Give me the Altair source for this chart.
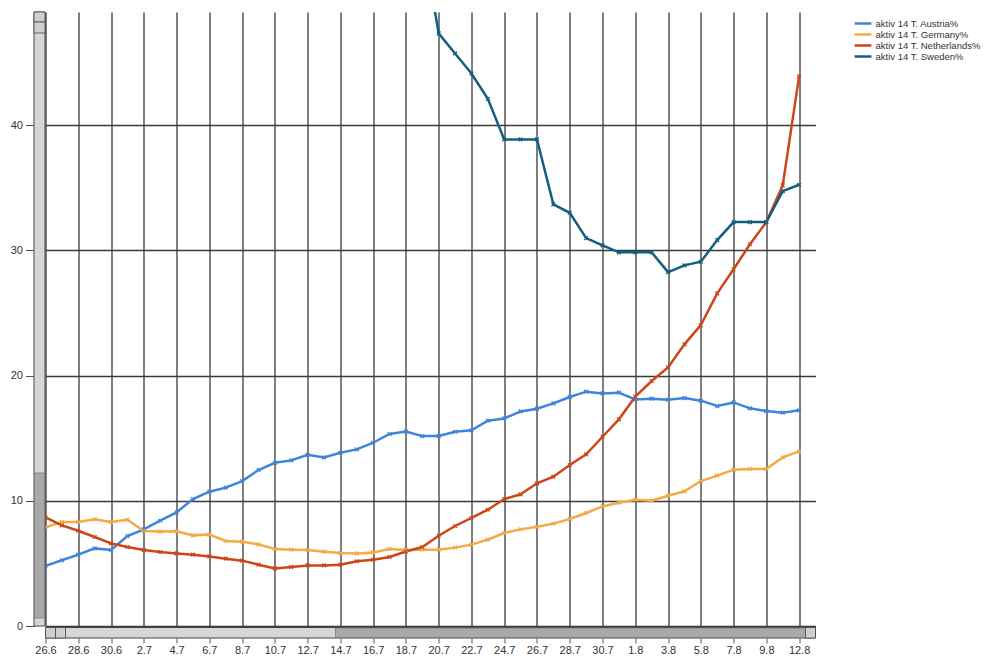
import altair as alt
import pandas as pd

# ---- data ----
dates = (["26.6", "27.6", "28.6", "29.6", "30.6"]
         + [f"{d}.7" for d in range(1, 32)]
         + [f"{d}.8" for d in range(1, 11)] + ["12.8"])

austria = [4.8, 5.25, 5.7, 6.2, 6.07, 7.19, 7.72, 8.41, 9.08, 10.14,
           10.73, 11.05, 11.58, 12.46, 13.04, 13.23, 13.68, 13.47, 13.84, 14.11,
           14.64, 15.34, 15.54, 15.17, 15.18, 15.52, 15.63, 16.4, 16.58, 17.14,
           17.36, 17.78, 18.29, 18.72, 18.58, 18.64, 18.1, 18.16, 18.08, 18.21,
           18.0, 17.57, 17.86, 17.39, 17.17, 17.04, 17.23]
germany = [7.88, 8.31, 8.31, 8.52, 8.31, 8.49, 7.59, 7.54, 7.56, 7.24,
           7.3, 6.79, 6.74, 6.52, 6.15, 6.1, 6.07, 5.94, 5.83, 5.8,
           5.88, 6.15, 6.08, 6.1, 6.1, 6.26, 6.5, 6.9, 7.43, 7.72,
           7.93, 8.18, 8.55, 9.03, 9.56, 9.85, 10.09, 10.01, 10.41, 10.76,
           11.58, 12.01, 12.49, 12.54, 12.54, 13.47, 13.95]
netherlands = [8.68, 8.04, 7.61, 7.11, 6.6, 6.31, 6.07, 5.91, 5.8, 5.7,
               5.56, 5.38, 5.22, 4.9, 4.6, 4.71, 4.84, 4.84, 4.9, 5.17,
               5.3, 5.51, 5.95, 6.31, 7.21, 7.99, 8.63, 9.29, 10.14, 10.52,
               11.4, 11.93, 12.86, 13.71, 15.12, 16.51, 18.32, 19.57, 20.66, 22.5,
               24.04, 26.57, 28.5, 30.5, 32.27, 35.2, 43.93]
sweden = [None] * 23 + [55.0, 47.34, 45.74, 44.14, 42.12, 38.87, 38.87, 38.87,
                        33.68, 33.01, 30.99, 30.41, 29.85, 29.85, 29.85, 28.27,
                        28.81, 29.1, 30.83, 32.27, 32.27, 32.27, 34.74, 35.25]

series_names = ["aktiv 14 T. Austria%", "aktiv 14 T. Germany%",
                "aktiv 14 T. Netherlands%", "aktiv 14 T. Sweden%"]
series_values = [austria, germany, netherlands, sweden]
series_colors = ["#3f84d8", "#f4aa45", "#cc4618", "#135f80"]

rows = []
for name, vals in zip(series_names, series_values):
    for i, v in enumerate(vals):
        if v is not None:
            rows.append({"i": i, "date": dates[i], "series": name, "value": v})
df = pd.DataFrame(rows)

W, H = 770, 614
tick_idx = list(range(0, len(dates), 2))
label_expr = "[" + ",".join(f"'{d}'" for d in dates) + "][datum.value]"

x = alt.X("i:Q", scale=alt.Scale(domain=[0, 47], nice=False, zero=False),
          axis=alt.Axis(values=tick_idx, tickCount=100, labelExpr=label_expr,
                        title=None, grid=True, gridColor="#3a3a3a", gridWidth=1.3,
                        domain=False, offset=12, tickSize=5, tickColor="#555",
                        labelOverlap=False, labelFlush=False,
                        labelPadding=1, labelFontSize=11, labelColor="#333",
                        labelFont="Liberation Sans"))
y = alt.Y("value:Q", scale=alt.Scale(domain=[0, 49.05], nice=False),
          axis=alt.Axis(values=[0, 10, 20, 30, 40], title=None, grid=True,
                        gridColor="#3a3a3a", gridWidth=1.3, domain=False,
                        offset=11, tickSize=9, tickColor="#555",
                        labelPadding=3, labelFontSize=11, labelColor="#333",
                        labelFont="Liberation Sans"))
color = alt.Color("series:N",
                  scale=alt.Scale(domain=series_names, range=series_colors),
                  legend=alt.Legend(title=None, orient="none", legendX=812,
                                    legendY=6, symbolType="M-2.1,0H2.1",
                                    symbolStrokeWidth=2.5, symbolSize=64,
                                    labelFontSize=9.5, labelColor="#333",
                                    labelFont="Liberation Sans", rowPadding=-1,
                                    labelOffset=7, labelLimit=200))

base = alt.Chart(df)
lines = base.mark_line(strokeWidth=2.5, clip=True).encode(x=x, y=y, color=color)
pts = base.mark_point(shape="M-1,-1L1,1M-1,1L1,-1", size=14, filled=False,
                      strokeWidth=1.3, clip=True, opacity=1).encode(
    x="i:Q", y="value:Q", color=alt.Color("series:N", legend=None))

# scrollbar decorations (UI chrome of the original screenshot)
deco = pd.DataFrame({"k": [0]})
vbar = alt.Chart(deco).mark_rect(fill="#d6d6d6", stroke="#444", strokeWidth=1).encode(
    x=alt.value(-11.5), x2=alt.value(-0.5), y=alt.value(0), y2=alt.value(H))
vthumb = alt.Chart(deco).mark_rect(fill="#a9a9a9", stroke="#777", strokeWidth=0.8).encode(
    x=alt.value(-11), x2=alt.value(-1), y=alt.value(461), y2=alt.value(606))
vbtn = alt.Chart(deco).mark_rect(fill="#cfcfcf", stroke="#444", strokeWidth=0.8).encode(
    x=alt.value(-11.5), x2=alt.value(-0.5), y=alt.value(0), y2=alt.value(10))
vbtn2 = alt.Chart(deco).mark_rect(fill="#cfcfcf", stroke="#444", strokeWidth=0.8).encode(
    x=alt.value(-11.5), x2=alt.value(-0.5), y=alt.value(10), y2=alt.value(21))
hbar = alt.Chart(deco).mark_rect(fill="#d6d6d6", stroke="#444", strokeWidth=1).encode(
    x=alt.value(0), x2=alt.value(W), y=alt.value(H + 1.5), y2=alt.value(H + 12))
hthumb = alt.Chart(deco).mark_rect(fill="#a9a9a9", stroke="#777", strokeWidth=0.8).encode(
    x=alt.value(290), x2=alt.value(W - 10), y=alt.value(H + 2), y2=alt.value(H + 11.5))
hbtn = alt.Chart(deco).mark_rect(fill="#cfcfcf", stroke="#444", strokeWidth=0.8).encode(
    x=alt.value(0), x2=alt.value(10), y=alt.value(H + 1.5), y2=alt.value(H + 12))
hbtn2 = alt.Chart(deco).mark_rect(fill="#cfcfcf", stroke="#444", strokeWidth=0.8).encode(
    x=alt.value(10), x2=alt.value(20), y=alt.value(H + 1.5), y2=alt.value(H + 12))
hbtn3 = alt.Chart(deco).mark_rect(fill="#cfcfcf", stroke="#444", strokeWidth=0.8).encode(
    x=alt.value(W - 10), x2=alt.value(W), y=alt.value(H + 1.5), y2=alt.value(H + 12))

chart = alt.layer(lines, pts, vbar, vthumb, vbtn, vbtn2, hbar, hthumb, hbtn,
                  hbtn2, hbtn3).properties(
    width=W, height=H,
    padding={"left": 45.5, "top": 12, "right": 999 - 45.5 - W, "bottom": 669 - 12 - H},
    autosize=alt.AutoSizeParams(type="none"),
    background="white",
).configure_view(stroke=None)

chart.save("out.html", embed_options={"renderer": "svg", "actions": False})
